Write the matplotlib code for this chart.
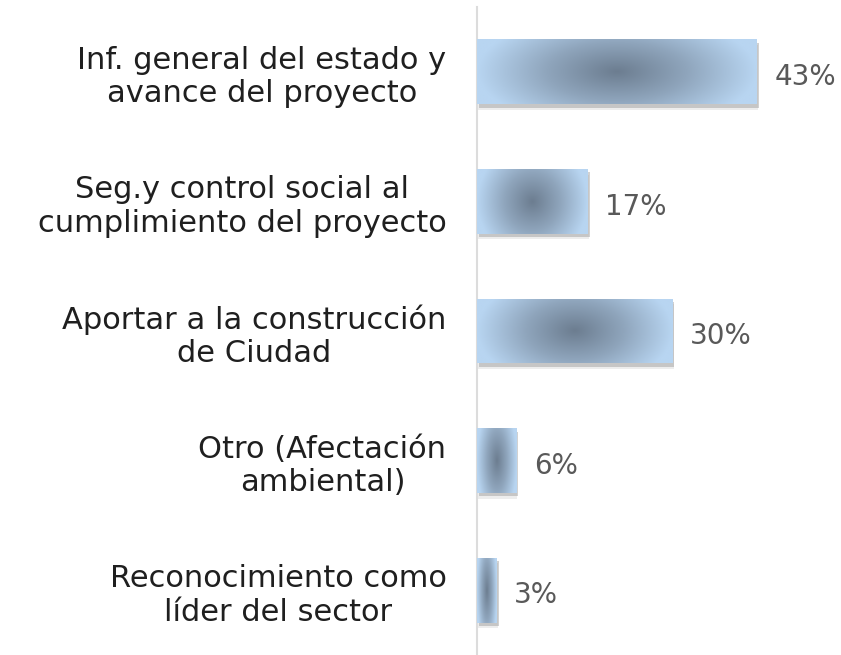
import numpy as np
import matplotlib
matplotlib.use("Agg")
import matplotlib.pyplot as plt
import matplotlib.patheffects as pe
from matplotlib.colors import LinearSegmentedColormap

categories = [
    "Inf. general del estado y\navance del proyecto",
    "Seg.y control social al\ncumplimiento del proyecto",
    "Aportar a la construcción\nde Ciudad",
    "Otro (Afectación\nambiental)",
    "Reconocimiento como\nlíder del sector",
]
values = [43, 17, 30, 6, 3]
value_labels = ["43%", "17%", "30%", "6%", "3%"]

plt.rcParams["font.family"] = ["DejaVu Sans"]

fig = plt.figure(figsize=(8.41, 6.55), dpi=100)
ax = fig.add_axes([477 / 841, 0.0, 358 / 841, 648 / 655])

y = np.arange(len(categories))
bar_h = 0.5

# dark centre fading to light blue at the bar ends
grad_cmap = LinearSegmentedColormap.from_list(
    "bar_grad", ["#6c7d90", "#8fa5bc", "#b8d5f1"]
)

soft_shadow = [
    pe.SimplePatchShadow(offset=(1, -4), shadow_rgbFace="#a5a5a5", alpha=0.2),
    pe.SimplePatchShadow(offset=(1.5, -2.5), shadow_rgbFace="#7f7f7f", alpha=0.35),
    pe.Normal(),
]

bars = ax.barh(
    y,
    values,
    height=bar_h,
    color="#b8d5f1",
    zorder=2,
    path_effects=soft_shadow,
)

# radial fill drawn inside each bar
gx = np.linspace(-1, 1, 240)
gy = np.linspace(-1, 1, 80)
XX, YY = np.meshgrid(gx, gy)
r = np.clip(np.sqrt(XX ** 2 + 0.3 * YY ** 2), 0, 1)

for bar in bars:
    x0, y0 = bar.get_x(), bar.get_y()
    w, h = bar.get_width(), bar.get_height()
    im = ax.imshow(
        r,
        cmap=grad_cmap,
        vmin=0,
        vmax=1,
        extent=(x0, x0 + w, y0 + h, y0),
        aspect="auto",
        interpolation="bilinear",
        zorder=3,
    )
    im.set_clip_path(bar)

for yi, v, lab in zip(y, values, value_labels):
    ax.text(
        v + 2.7,
        yi + 0.04,
        lab,
        va="center",
        ha="left",
        fontsize=20,
        color="#595959",
    )

ax.set_xlim(0, 55)
ax.set_ylim(len(categories) - 0.5, -0.5)

ax.set_yticks(y)
ax.set_yticklabels(categories, fontsize=22, color="#1f1f1f", multialignment="center",
                   linespacing=1.2)
ax.tick_params(axis="y", length=0, pad=22)
ax.set_xticks([])

for side in ["top", "right", "bottom"]:
    ax.spines[side].set_visible(False)
ax.spines["left"].set_color("#dcdcdc")
ax.spines["left"].set_linewidth(1.5)

fig.savefig("out.png", dpi=100, facecolor="white")
